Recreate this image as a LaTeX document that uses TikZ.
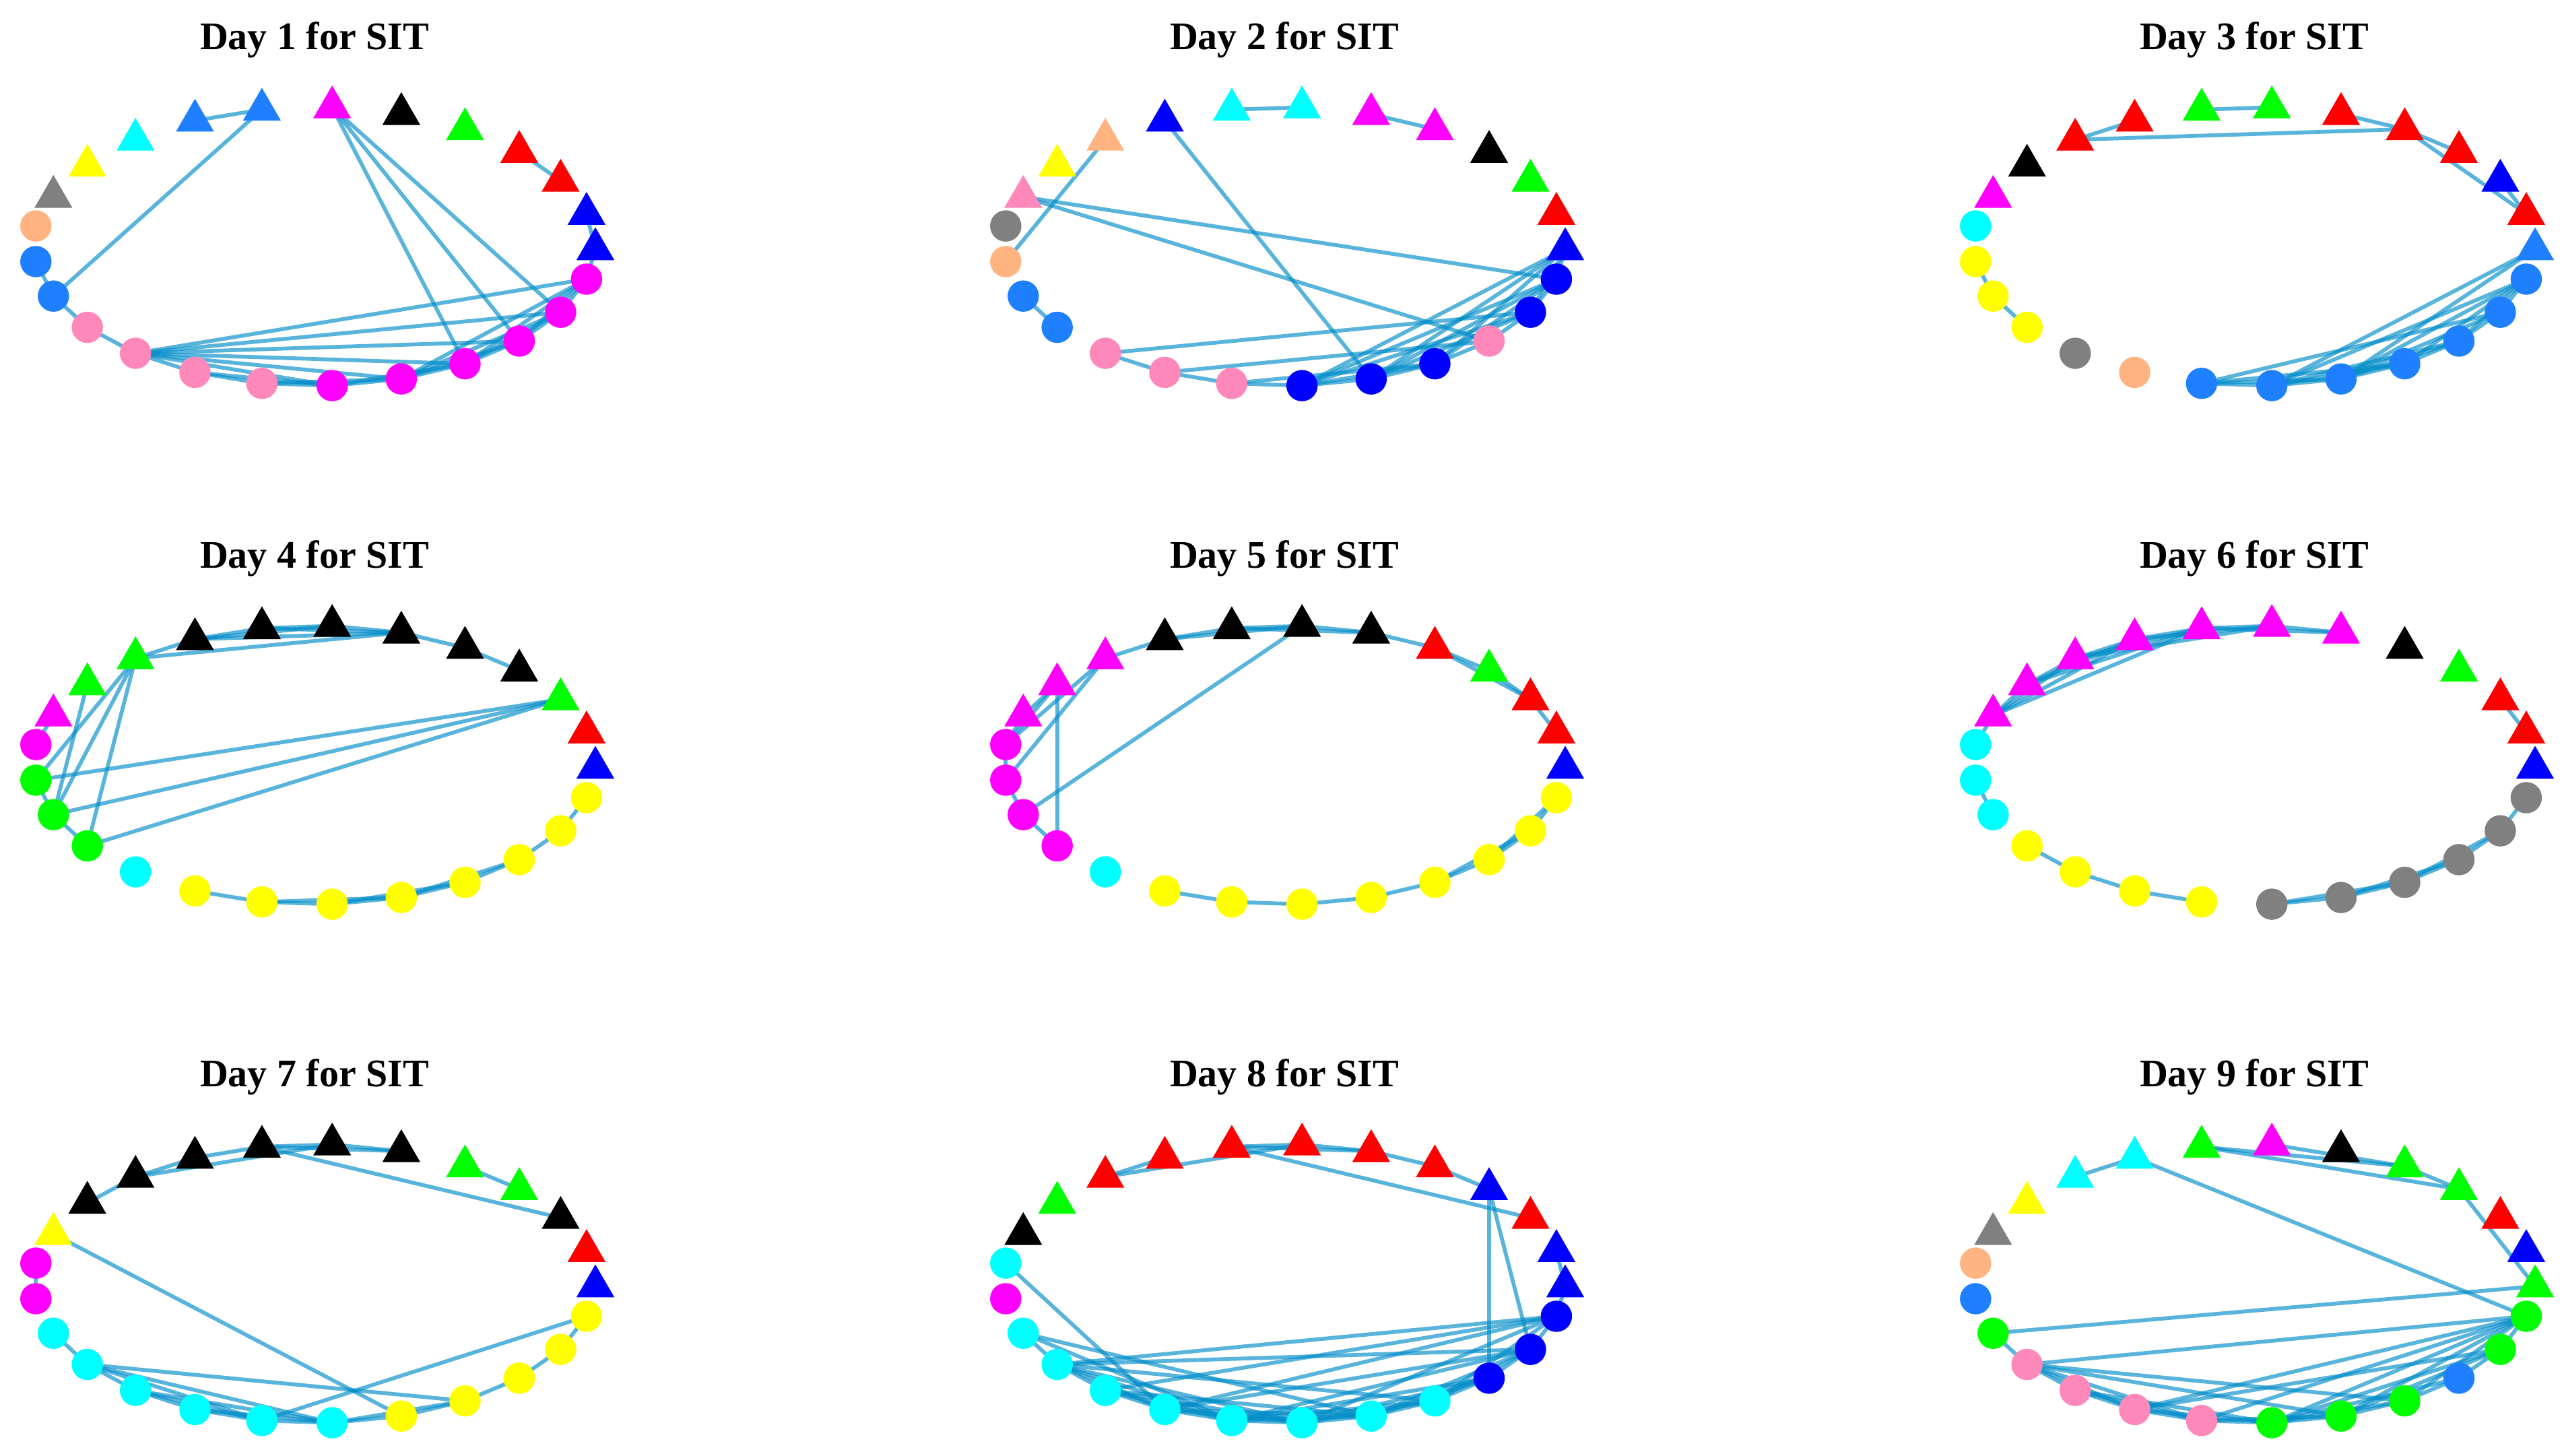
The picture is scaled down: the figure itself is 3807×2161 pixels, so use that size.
\documentclass[tikz,border=0pt]{standalone}
\usepackage{fontspec}
\setmainfont{Liberation Serif}
\usetikzlibrary{shapes.geometric}
\pgfdeclarelayer{background}
\pgfsetlayers{background,main}
\definecolor{mag}{HTML}{FF00FF}
\definecolor{pnk}{HTML}{FF88BB}
\definecolor{az}{HTML}{1E80FF}
\definecolor{blu}{HTML}{0000FF}
\definecolor{pch}{HTML}{FFB380}
\definecolor{gry}{HTML}{808080}
\definecolor{yel}{HTML}{FFFF00}
\definecolor{cyn}{HTML}{00FFFF}
\definecolor{grn}{HTML}{00FF00}
\definecolor{rd}{HTML}{FF0000}
\definecolor{blk}{HTML}{000000}
\definecolor{edgec}{RGB}{0,140,200}
\tikzset{
  tri/.style={regular polygon, regular polygon sides=3, minimum size=13pt, inner sep=0pt, draw=none, yshift=-1.6pt},
  cir/.style={circle, minimum size=9.3pt, inner sep=0pt, draw=none},
  edge/.style={draw=edgec, line width=1.15pt, opacity=0.65},
  ptitle/.style={font=\fontsize{11.6}{14}\selectfont\bfseries, inner sep=0pt, anchor=base}
}
\newcommand{\drawpanel}[6]{%
  \node[ptitle] (#1-t) at (#2, {#3-289}) {#4};
  \foreach \c [count=\k from 0] in {#5} {
    \node[tri, fill=\c] (#1-\k) at ({#2+417*cos(14.4*\k)}, {#3-211*sin(14.4*\k)}) {};
  }
  \foreach \c [count=\k from 12] in {#6} {
    \node[cir, fill=\c] (#1-\k) at ({#2+417*cos(14.4*\k)}, {#3-211*sin(14.4*\k)}) {};
  }
}
\newcommand{\paneledges}[2]{%
  \begin{pgfonlayer}{background}
  \foreach \a/\b in {#2} {\draw[edge] (#1-\a.center) -- (#1-\b.center);}
  \end{pgfonlayer}
}
\begin{document}
\begin{tikzpicture}[x=0.2pt, y=-0.2pt]
\useasboundingbox (0,0) rectangle (3807,2161);
% Panel 1
\drawpanel{pa}{467}{362}{Day 1 for SIT}
  {blu,blu,rd,rd,grn,blk,mag,az,az,cyn,yel,gry}
  {pch,az,az,pnk,pnk,pnk,pnk,mag,mag,mag,mag,mag,mag}
\paneledges{pa}{8/7, 7/14, 6/21, 6/22, 6/23, 3/2, 1/0, 0/24, 13/14, 14/15, 15/16, 16/17, 17/18, 18/19, 19/20, 20/21, 21/22, 22/23, 23/24, 16/19, 16/20, 16/21, 16/22, 16/23, 16/24, 17/19, 18/20, 19/21, 20/22, 21/23, 22/24, 20/23, 21/24, 20/24}
% Panel 2
\drawpanel{pb}{1907}{362}{Day 2 for SIT}
  {blu,rd,grn,blk,mag,mag,cyn,cyn,blu,pch,yel,pnk}
  {gry,pch,az,az,pnk,pnk,pnk,blu,blu,blu,pnk,blu,blu}
\paneledges{pb}{7/6, 5/4, 8/20, 9/13, 11/24, 11/22, 14/15, 16/23, 17/22, 16/17, 17/18, 18/19, 0/19, 0/20, 0/21, 0/23, 0/24, 19/20, 20/21, 21/22, 22/23, 23/24, 19/21, 19/23, 20/23, 20/24, 21/24, 19/24, 18/21}
% Panel 3
\drawpanel{pc}{3347}{362}{Day 3 for SIT}
  {az,rd,blu,rd,rd,rd,grn,grn,rd,rd,blk,mag}
  {cyn,yel,yel,yel,gry,pch,az,az,az,az,az,az,az}
\paneledges{pc}{7/6, 9/8, 9/4, 5/4, 4/3, 4/1, 2/1, 13/14, 14/15, 0/19, 0/20, 18/19, 18/20, 18/21, 18/23, 19/20, 19/21, 19/22, 19/24, 20/21, 20/22, 20/23, 20/24, 21/22, 21/24, 22/23, 22/24, 23/24}
% Panel 4
\drawpanel{pd}{467}{1132}{Day 4 for SIT}
  {blu,rd,grn,blk,blk,blk,blk,blk,blk,grn,grn,mag}
  {mag,grn,grn,grn,cyn,yel,yel,yel,yel,yel,yel,yel,yel}
\paneledges{pd}{8/7, 8/6, 8/5, 7/6, 7/5, 6/5, 5/4, 4/3, 9/5, 9/8, 9/13, 9/14, 9/15, 10/14, 2/13, 2/14, 2/15, 11/12, 13/14, 14/15, 17/18, 18/19, 19/20, 20/21, 21/22, 22/23, 23/24, 19/21, 20/22, 18/20}
% Panel 5
\drawpanel{pe}{1907}{1132}{Day 5 for SIT}
  {blu,rd,rd,grn,rd,blk,blk,blk,blk,mag,mag,mag}
  {mag,mag,mag,mag,cyn,yel,yel,yel,yel,yel,yel,yel,yel}
\paneledges{pe}{8/7, 8/6, 7/6, 6/5, 7/5, 9/8, 5/4, 4/3, 4/2, 3/2, 2/1, 6/14, 9/12, 9/13, 10/12, 10/15, 11/12, 13/12, 13/14, 14/15, 17/18, 18/19, 19/20, 20/21, 21/22, 22/23, 23/24, 22/24, 21/23, 10/11}
% Panel 6
\drawpanel{pf}{3347}{1132}{Day 6 for SIT}
  {blu,rd,rd,grn,blk,mag,mag,mag,mag,mag,mag,mag}
  {cyn,cyn,cyn,yel,yel,yel,yel,gry,gry,gry,gry,gry,gry}
\paneledges{pf}{11/10, 11/9, 11/8, 11/7, 10/9, 10/8, 10/7, 9/8, 9/7, 8/7, 8/6, 7/6, 7/5, 6/5, 9/6, 11/12, 2/1, 13/14, 15/16, 16/17, 17/18, 19/20, 19/21, 20/21, 21/22, 22/23, 23/24, 20/22, 21/23}
% Panel 7
\drawpanel{pg}{467}{1902}{Day 7 for SIT}
  {blu,rd,blk,grn,grn,blk,blk,blk,blk,blk,blk,yel}
  {mag,mag,cyn,cyn,cyn,cyn,cyn,cyn,yel,yel,yel,yel,yel}
\paneledges{pg}{10/9, 9/8, 9/6, 8/7, 7/6, 7/5, 6/5, 7/2, 4/3, 11/20, 12/13, 14/15, 15/16, 16/17, 17/18, 18/19, 19/20, 15/21, 15/19, 15/18, 16/19, 16/18, 24/18, 20/21, 21/22, 22/23, 23/24, 17/19, 19/21}
% Panel 8
\drawpanel{ph}{1907}{1902}{Day 8 for SIT}
  {blu,blu,rd,blu,rd,rd,rd,rd,rd,rd,grn,blk}
  {cyn,mag,cyn,cyn,cyn,cyn,cyn,cyn,cyn,cyn,blu,blu,blu}
\paneledges{ph}{9/8, 9/6, 7/6, 7/5, 6/5, 7/2, 5/4, 4/3, 3/22, 3/23, 1/0, 0/24, 12/17, 14/15, 15/16, 16/17, 17/18, 18/19, 19/20, 20/21, 21/22, 22/23, 23/24, 15/17, 15/18, 16/18, 16/19, 17/19, 17/20, 18/20, 18/21, 19/21, 16/20, 15/19, 15/21, 14/20, 14/18, 24/15, 24/16, 24/17, 24/19, 23/15, 23/17, 23/18, 23/20, 22/18, 22/19, 22/20, 24/21, 23/21}
% Panel 9
\drawpanel{pi}{3347}{1902}{Day 9 for SIT}
  {grn,blu,rd,grn,grn,blk,mag,grn,cyn,cyn,yel,gry}
  {pch,az,grn,pnk,pnk,pnk,pnk,grn,grn,grn,az,grn,grn}
\paneledges{pi}{9/8, 8/24, 7/4, 7/3, 6/4, 4/3, 3/0, 0/14, 14/15, 15/16, 16/17, 17/18, 18/19, 19/20, 20/21, 21/22, 22/23, 23/24, 15/17, 15/18, 15/20, 15/21, 16/18, 16/19, 17/19, 18/20, 24/15, 24/17, 24/18, 24/19, 24/20, 24/21, 23/19, 23/20, 23/17, 22/19, 21/19}
\end{tikzpicture}
\end{document}
